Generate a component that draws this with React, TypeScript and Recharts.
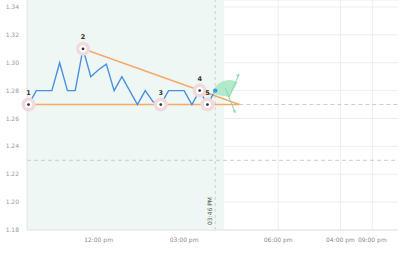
import React from "react";
import {
  ComposedChart,
  Line,
  Scatter,
  XAxis,
  YAxis,
  CartesianGrid,
  ReferenceArea,
  ReferenceLine,
} from "recharts";

// price series: index (15-min bars) and value
const priceIdx = [0,1,2,3,4,5,6,7,8,9,10,11,12,13,14,15,16,17,18,19,20,21,22,23,24];
const priceVal = [1.27,1.28,1.28,1.28,1.30,1.28,1.28,1.31,1.29,1.295,1.299,1.28,1.29,1.28,1.27,1.28,1.272,1.27,1.28,1.28,1.28,1.27,1.28,1.27,1.28];

// pattern points
const markIdx = [0, 7, 17, 22, 23];
const markVal = [1.27, 1.31, 1.27, 1.28, 1.27];
const markLabel = ["1", "2", "3", "4", "5"];

// trend lines
const supportX = [0, 27.1];
const supportY = [1.27, 1.27];
const resistX = [7, 27.1];
const resistY = [1.31, 1.27];

// extension of support (dashed)
const extX = [27.1, 47.5];
const extY = [1.27, 1.27];

const levelY = 1.23;
const nowIdx = 24;
const nowLabel = "03:46 PM";
const shadeEnd = 25.15;
const forecastIdx = 25.8;
const forecastVal = 1.2755;

const xTicks = [9, 20, 32.1, 40.1, 44.2];
const xTickLabels = ["12:00 pm", "03:00 pm", "06:00 pm", "04:00 pm", "09:00 pm"];
const yTicks = [1.18, 1.2, 1.22, 1.24, 1.26, 1.28, 1.3, 1.32, 1.34];
const xDomain = [-0.2, 47.5];
const yDomain = [1.18, 1.345];

const priceData = priceIdx.map((x, i) => ({ x, y: priceVal[i] }));
const markData = markIdx.map((x, i) => ({ x, y: markVal[i], label: markLabel[i] }));
const supportData = supportX.map((x, i) => ({ x, y: supportY[i] }));
const resistData = resistX.map((x, i) => ({ x, y: resistY[i] }));
const endData = [{ x: priceIdx[priceIdx.length - 1], y: priceVal[priceVal.length - 1] }];
const forecastData = [{ x: forecastIdx, y: forecastVal }];

const FONT = "'DejaVu Sans', Verdana, sans-serif";

const MarkShape = (props: any) => {
  const { cx, cy, payload } = props;
  return (
    <g>
      <circle cx={cx} cy={cy} r={7} fill="#f0dadc" />
      <circle cx={cx} cy={cy} r={3.6} fill="#ffffff" />
      <circle cx={cx} cy={cy} r={1.4} fill="#333333" />
      <text
        x={cx}
        y={cy - 9.5}
        textAnchor="middle"
        fontSize={6.5}
        fontWeight="bold"
        fill="#333"
        fontFamily={FONT}
      >
        {payload.label}
      </text>
    </g>
  );
};

const EndDot = (props: any) => {
  const { cx, cy } = props;
  return <circle cx={cx} cy={cy} r={2.2} fill="#4a90e2" />;
};

const ForecastShape = (props: any) => {
  const { cx, cy } = props;
  const r = 17;
  const a1 = (-60 * Math.PI) / 180;
  const a2 = (190 * Math.PI) / 180;
  const p1x = cx + r * Math.cos(a1);
  const p1y = cy + r * Math.sin(a1);
  const p2x = cx + r * Math.cos(a2);
  const p2y = cy + r * Math.sin(a2);
  const upX = cx + 10;
  const upY = cy - 23;
  const dnX = cx + 6;
  const dnY = cy + 16;
  return (
    <g>
      <path
        d={`M${cx},${cy} L${p1x},${p1y} A${r},${r} 0 0 0 ${p2x},${p2y} Z`}
        fill="#a9e8c7"
        fillOpacity={0.9}
      />
      <line x1={cx} y1={cy} x2={upX} y2={upY} stroke="#86d9ad" strokeWidth={1} />
      <line x1={cx - 4} y1={cy - 9} x2={dnX} y2={dnY} stroke="#86d9ad" strokeWidth={1} />
      <path d={`M${upX},${upY} l-3.5,1 l2.8,2.4 Z`} fill="#86d9ad" />
      <path d={`M${dnX},${dnY} l-2.8,-2.2 l3.4,-1 Z`} fill="#86d9ad" />
    </g>
  );
};

const NowLabel = (props: any) => {
  const { viewBox } = props;
  const x = viewBox.x - 6;
  const y = viewBox.y + viewBox.height - 19;
  return (
    <text
      x={x}
      y={y}
      transform={`rotate(-90 ${x} ${y})`}
      textAnchor="middle"
      dominantBaseline="central"
      fontSize={6}
      fill="#555"
      fontFamily={FONT}
    >
      {nowLabel}
    </text>
  );
};

export default function App() {
  return (
    <div style={{ position: "absolute", left: 0, top: 0 }}>
      <ComposedChart
        width={400}
        height={253}
        margin={{ top: 0, right: 2, bottom: 0, left: 0 }}
      >
        <ReferenceArea
          x1={xDomain[0]}
          x2={shadeEnd}
          fill="#eef7f3"
          fillOpacity={1}
          stroke="none"
        />
        <CartesianGrid
          stroke="#e6eaea"
          strokeWidth={0.8}
          verticalValues={[32.1, 40.1, 44.2]}
        />
        <XAxis
          dataKey="x"
          type="number"
          domain={xDomain}
          ticks={xTicks}
          tickFormatter={(v: number) => xTickLabels[xTicks.indexOf(v)] ?? ""}
          tickLine={false}
          axisLine={{ stroke: "#e3e6e6" }}
          height={23}
          interval={0}
          tick={{ fontSize: 6, fill: "#888", fontFamily: FONT }}
        />
        <YAxis
          type="number"
          domain={yDomain}
          ticks={yTicks}
          tickFormatter={(v: number) => v.toFixed(2)}
          tickLine={false}
          axisLine={{ stroke: "#e3e6e6" }}
          width={27}
          interval={0}
          tick={{ fontSize: 6, fill: "#999", fontFamily: FONT }}
        />
        <ReferenceLine y={levelY} stroke="#cccccc" strokeDasharray="4 3" strokeWidth={1} />
        <ReferenceLine
          segment={[{ x: extX[0], y: extY[0] }, { x: extX[1], y: extY[1] }]}
          stroke="#cccccc"
          strokeDasharray="4 3"
          strokeWidth={1}
        />
        <ReferenceLine
          x={nowIdx}
          stroke="#cfcfcf"
          strokeDasharray="3 3"
          strokeWidth={1}
          label={<NowLabel />}
        />
        <Line
          data={supportData}
          dataKey="y"
          type="linear"
          stroke="#f6a96a"
          strokeWidth={1.6}
          dot={false}
          isAnimationActive={false}
        />
        <Line
          data={resistData}
          dataKey="y"
          type="linear"
          stroke="#f6a96a"
          strokeWidth={1.6}
          dot={false}
          isAnimationActive={false}
        />
        <Line
          data={priceData}
          dataKey="y"
          type="linear"
          stroke="#4a90e2"
          strokeWidth={1.4}
          dot={false}
          isAnimationActive={false}
        />
        <Scatter data={forecastData} dataKey="y" shape={<ForecastShape />} isAnimationActive={false} />
        <Scatter data={markData} dataKey="y" shape={<MarkShape />} isAnimationActive={false} />
        <Scatter data={endData} dataKey="y" shape={<EndDot />} isAnimationActive={false} />
      </ComposedChart>
    </div>
  );
}
